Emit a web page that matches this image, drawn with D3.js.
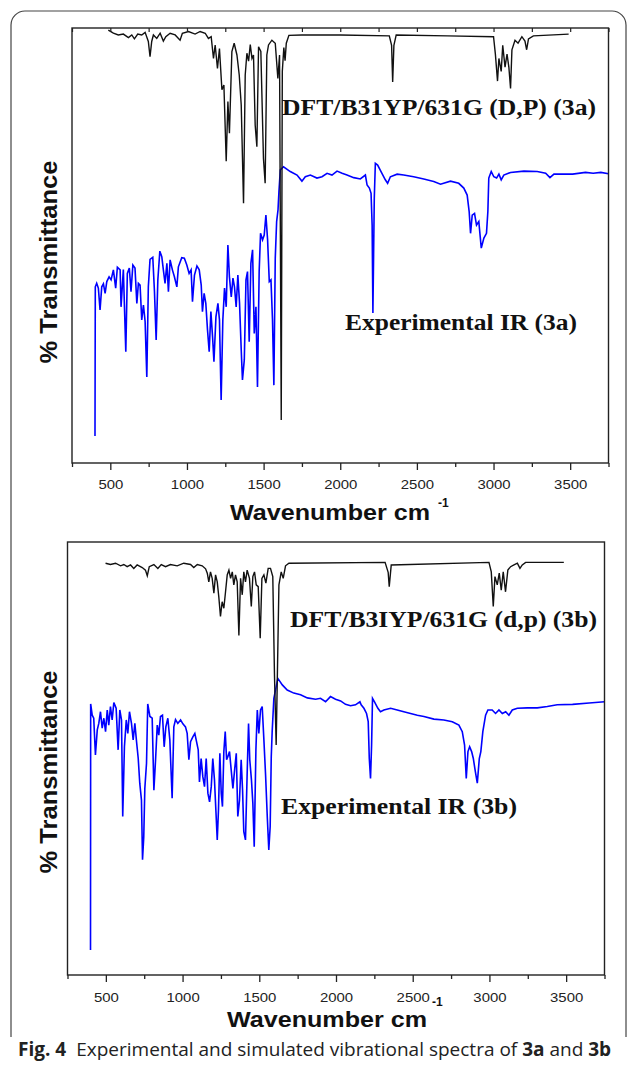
<!DOCTYPE html>
<html>
<head>
<meta charset="utf-8">
<script src="https://cdn.jsdelivr.net/npm/d3@7"></script>
<style>
body { margin: 0; background: #fff; }
svg { display: block; }
</style>
</head>
<body>
<div id="fig"></div>
<script>
// wavenumber axis ticks
var majorTicks = [500, 1000, 1500, 2000, 2500, 3000, 3500];
var minorTicks = [250, 750, 1250, 1750, 2250, 2750, 3250, 3750];

// [wavenumber, relative transmittance]
var dft3a = [[487,99.5],[520,98.8],[552,98.4],[585,98.6],[618,97.8],[640,98.4],[657,97.5],[679,98.6],[705,98.4],[727,99],[748,96.9],[759,93.4],[770,96.9],[781,98.4],[803,97.6],[825,98.8],[846,97],[862,98],[890,98.8],[923,98.4],[955,97.2],[970,98.8],[1010,99.2],[1053,98.6],[1086,99.2],[1119,98.8],[1140,97.6],[1158,98],[1173,93],[1184,96.1],[1199,90.7],[1212,95.3],[1228,85.8],[1241,86.9],[1256,69.4],[1267,83.1],[1277,75.8],[1293,94.6],[1308,96.5],[1326,93.8],[1341,89.2],[1354,82.3],[1369,59.7],[1380,89.2],[1391,94.2],[1402,92.4],[1413,96.2],[1424,93],[1434,93.8],[1445,77.7],[1456,72.7],[1467,95.7],[1482,94.6],[1499,70],[1510,64.3],[1521,93.8],[1532,96.1],[1554,97.2],[1576,96.5],[1593,88.4],[1604,93.8],[1615,9.9],[1622,90],[1632,95.5],[1640,92.5],[1648,96.5],[1665,98.3],[1750,98.4],[2000,98.4],[2320,98.2],[2335,96],[2342,87.6],[2350,96],[2365,98.4],[2700,98.2],[3000,98],[3012,94],[3026,87.8],[3035,93],[3050,90],[3060,96],[3075,91],[3088,94],[3100,91],[3111,86.1],[3120,95],[3140,97.2],[3160,96.5],[3185,98],[3205,97],[3216,95],[3228,97.5],[3260,98.2],[3490,98.6]];

var exp3a = [[400,6.2],[402,40.5],[411,41.3],[422,40.2],[433,35.2],[444,40.5],[455,41.2],[466,39],[477,41.7],[492,42.8],[505,42.1],[520,44.4],[535,40.2],[546,45],[564,44.4],[570,35.9],[585,44.5],[601,25.6],[611,43.6],[624,44.8],[635,39.4],[647,45.5],[661,44.8],[673,36.7],[683,41.3],[694,40.9],[705,32.9],[716,36.3],[727,32.5],[738,19.8],[748,40.5],[759,46.8],[777,47.3],[788,39.4],[799,28.3],[810,42.1],[823,48.7],[836,47.4],[846,44.4],[857,41.3],[869,45.9],[879,39.4],[890,46.7],[905,44.4],[918,42.8],[934,40.5],[944,45.1],[966,47.2],[983,47.1],[999,45.5],[1014,43.6],[1027,44.4],[1036,37.1],[1049,43.2],[1065,45.3],[1080,44.4],[1093,40.9],[1101,34.8],[1112,39],[1123,36.7],[1134,30.6],[1145,25.6],[1156,34.8],[1167,29],[1176,23.3],[1189,33.6],[1202,36.7],[1212,32.9],[1223,14.5],[1234,32.9],[1245,40.2],[1256,35.9],[1267,50.1],[1277,42.8],[1289,38.2],[1300,42.5],[1310,40.5],[1321,35.9],[1332,43.2],[1343,36.7],[1354,26],[1362,19.1],[1374,23.7],[1385,42.1],[1395,44],[1406,27.9],[1417,45.9],[1428,49],[1439,29.8],[1450,35.9],[1460,17.5],[1471,44],[1480,52.8],[1493,51.3],[1504,52.4],[1515,57],[1526,51.3],[1537,41.7],[1548,42.1],[1558,32.9],[1567,17.9],[1576,47.1],[1585,55.5],[1594,58.2],[1600,62.4],[1609,67.4],[1630,68.1],[1674,67],[1718,66.2],[1750,64.8],[1772,65.8],[1805,66.2],[1848,65.5],[1881,65.8],[1914,66.6],[1946,66.2],[1979,67.1],[2012,66.6],[2044,66.2],[2088,65.6],[2131,65.3],[2164,66.2],[2175,63.9],[2190,63.2],[2201,62],[2208,54.7],[2213,34.5],[2222,60.8],[2229,68.9],[2244,68.5],[2266,67],[2294,65.1],[2309,64.3],[2327,65.8],[2371,66.4],[2414,66.2],[2479,65.8],[2545,65.3],[2610,64.7],[2654,64.1],[2719,64.8],[2773,64.3],[2806,63.2],[2828,61.6],[2841,57.8],[2850,52.8],[2861,57],[2876,57.4],[2889,54.7],[2904,55.5],[2920,49.4],[2937,51.7],[2954,52.8],[2963,57.8],[2969,65.5],[2985,67],[3002,65.8],[3020,65.5],[3035,66.4],[3050,65.1],[3067,66.2],[3111,66.8],[3198,67.1],[3285,67],[3340,66.6],[3368,65.6],[3394,66.4],[3516,66.4],[3600,66.8],[3650,66.6],[3700,66.8],[3750,66.5]];

var dft3b = [[498,95.1],[530,94.8],[563,95.1],[596,94.5],[617,94.8],[639,94.3],[661,94.7],[682,93.9],[704,94.7],[737,94.1],[758,93.5],[770,92.2],[783,94.3],[813,94.8],[839,93.9],[861,94.8],[889,94.3],[921,94.8],[965,94.5],[1008,95.1],[1052,94.8],[1073,94.1],[1096,94.8],[1128,94.5],[1150,93.8],[1161,92.8],[1171,90.8],[1182,93.1],[1193,91.6],[1204,88.2],[1215,92.4],[1226,90.8],[1236,87.4],[1247,82.8],[1258,86.2],[1269,84.7],[1280,88.5],[1291,92.4],[1302,93.5],[1313,91.6],[1324,93.1],[1334,90.1],[1345,92.4],[1356,90.8],[1367,78.4],[1378,91.6],[1389,87.8],[1399,93.1],[1410,90.8],[1421,93.5],[1436,91.6],[1448,85.1],[1458,92],[1469,93.1],[1480,90.1],[1493,89.7],[1506,77.8],[1517,91.6],[1530,92.4],[1543,90.5],[1558,93.9],[1573,93.9],[1588,92],[1599,69.3],[1610,53.1],[1628,90.1],[1643,93.1],[1656,91.6],[1671,94.5],[1693,95.1],[2320,95.3],[2340,93],[2347,89.7],[2360,94.7],[2997,95.3],[3012,93.1],[3025,85.1],[3036,92],[3051,90.1],[3064,92.8],[3077,88.9],[3090,93.1],[3105,88.5],[3120,93.5],[3138,94.3],[3160,94.7],[3182,95.1],[3199,93.9],[3214,94.7],[3236,95.3],[3485,95.3]];

var exp3b = [[400,5.8],[401,62.6],[411,60],[421,59.3],[432,50.8],[444,56.6],[454,58.1],[465,60.8],[476,57],[487,59.3],[498,56.2],[509,61.2],[519,57.7],[530,62],[541,58.9],[552,62.9],[567,61.6],[580,52],[591,61.2],[602,58.9],[610,36.6],[621,52.7],[633,58.9],[643,55.8],[654,60.8],[667,58.1],[678,54.3],[689,58.1],[700,53.9],[711,50],[721,44.3],[732,40.4],[739,26.6],[747,31.9],[754,43.1],[765,48.9],[773,62.6],[787,59.7],[802,59.3],[813,42.7],[824,49.7],[835,57.7],[845,55.4],[856,59.7],[869,60],[880,52.7],[891,57.3],[904,59.3],[917,54.3],[932,40.8],[943,57.3],[954,59],[969,58.1],[987,58.9],[1002,58],[1019,57.3],[1030,55.8],[1041,49.7],[1052,53.9],[1067,55],[1080,55.8],[1091,53.9],[1102,52],[1110,44.6],[1121,50],[1132,45.8],[1143,43.5],[1154,50],[1165,42],[1176,40],[1187,43.5],[1197,50],[1208,45],[1217,38.1],[1226,31.2],[1234,38.1],[1243,51.2],[1252,42],[1260,38.9],[1269,51.6],[1278,56.2],[1287,49.7],[1295,50.4],[1306,51.6],[1317,47.3],[1328,43.1],[1339,47.3],[1350,51.2],[1360,36.6],[1371,40.4],[1382,49.7],[1391,42.7],[1399,33.1],[1410,31.2],[1421,46.6],[1430,58.1],[1438,49.7],[1449,45],[1458,39.7],[1467,29.6],[1478,52],[1487,61.2],[1497,55.8],[1508,61.2],[1519,62],[1530,54.3],[1541,46.2],[1552,36.6],[1562,28.9],[1571,34.3],[1578,50.4],[1584,56.2],[1595,63.9],[1621,68.5],[1650,67],[1682,65.8],[1725,65.1],[1769,64.7],[1813,64],[1867,63.7],[1899,63.9],[1932,63.1],[1964,64.3],[1997,63.7],[2030,63.3],[2062,62.5],[2095,62.2],[2127,62.4],[2156,63.1],[2164,62.4],[2182,61.6],[2199,60.4],[2210,58.5],[2217,50],[2225,45.4],[2232,53.1],[2238,63.9],[2251,63.1],[2273,61.6],[2290,60.8],[2312,61.2],[2356,61.6],[2399,61.2],[2442,60.8],[2486,60.4],[2530,60],[2573,59.7],[2638,59.1],[2703,58.9],[2758,58.5],[2801,57.7],[2823,56.2],[2838,53.1],[2849,45.4],[2860,51.6],[2871,52.7],[2884,51.6],[2895,50],[2908,47],[2921,44.3],[2934,50],[2944,51.6],[2957,56.2],[2975,60],[2990,61.2],[3018,61.2],[3040,60.4],[3062,61.2],[3084,60.4],[3106,60.8],[3127,60],[3149,61.2],[3182,61.6],[3247,61.7],[3312,61.7],[3377,62],[3442,62.4],[3542,62.5],[3650,62.8],[3750,63.1]];

var width = 629, height = 1066;

var svg = d3.select("#fig")
    .append("svg")
    .attr("width", width)
    .attr("height", height);

svg.append("rect")
    .attr("width", width)
    .attr("height", height)
    .attr("fill", "#fff");

// rounded frame around the figure
svg.append("path")
    .attr("d", "M11,1037 V25 A14,14 0 0 1 25,11 H612 A14,14 0 0 1 626,25 V1037")
    .attr("fill", "none")
    .attr("stroke", "#444")
    .attr("stroke-width", 1.2);

var panels = [
    {
        left: 72, right: 608.5, top: 28, bottom: 463,
        dft: dft3a, exp: exp3a, topTicks: true,
        dftLabel: "DFT/B31YP/631G (D,P) (3a)", dftPos: [282, 115, 314],
        expLabel: "Experimental IR (3a)", expPos: [345, 330, 232],
        tickBase: 488.5, titleBase: 520, titleX: 230, supPos: [438, 507],
        yLabelY: 262
    },
    {
        left: 67.5, right: 604.5, top: 542, bottom: 975,
        dft: dft3b, exp: exp3b, topTicks: false,
        dftLabel: "DFT/B3IYP/631G (d,p) (3b)", dftPos: [290, 627, 307],
        expLabel: "Experimental IR (3b)", expPos: [281, 814, 236],
        tickBase: 1002, titleBase: 1027, titleX: 227, supPos: [432, 1006],
        yLabelY: 772
    }
];

panels.forEach(function (p) {
    var x = d3.scaleLinear().domain([250, 3750]).range([p.left, p.right]);
    var y = d3.scaleLinear().domain([0, 100]).range([p.bottom, p.top]);

    var line = d3.line()
        .x(function (d) { return x(d[0]); })
        .y(function (d) { return y(d[1]); });

    var g = svg.append("g");

    g.append("path")
        .datum(p.exp)
        .attr("d", line)
        .attr("fill", "none")
        .attr("stroke", "#0000ff")
        .attr("stroke-width", 1.6);

    g.append("path")
        .datum(p.dft)
        .attr("d", line)
        .attr("fill", "none")
        .attr("stroke", "#111")
        .attr("stroke-width", 1.4);

    // bottom axis, major + minor ticks
    var ax = g.append("g")
        .attr("transform", "translate(0," + p.bottom + ")")
        .call(d3.axisBottom(x).tickValues(majorTicks).tickSize(7).tickPadding(6).tickFormat(d3.format("d")));
    ax.select(".domain").remove();
    ax.selectAll("line").attr("stroke", "#222").attr("stroke-width", 1.3);
    ax.selectAll("text")
        .attr("y", null).attr("dy", null)
        .attr("transform", "translate(0," + (p.tickBase - p.bottom) + ")")
        .attr("font-family", "Liberation Sans, Arial, sans-serif")
        .attr("font-size", 13)
        .attr("fill", "#222")
        .attr("textLength", function (d) { return String(d).length * 8.3; })
        .attr("lengthAdjust", "spacingAndGlyphs");

    var mx = g.append("g")
        .attr("transform", "translate(0," + p.bottom + ")")
        .call(d3.axisBottom(x).tickValues(minorTicks).tickSize(4).tickFormat(""));
    mx.select(".domain").remove();
    mx.selectAll("line").attr("stroke", "#222").attr("stroke-width", 1.3);

    if (p.topTicks) {
        var tx = g.append("g")
            .attr("transform", "translate(0," + p.top + ")")
            .call(d3.axisTop(x).tickValues(majorTicks.concat(minorTicks)).tickSize(-4).tickFormat(""));
        tx.select(".domain").remove();
        tx.selectAll("line").attr("stroke", "#222").attr("stroke-width", 1.2);
    }

    g.append("rect")
        .attr("x", p.left).attr("y", p.top)
        .attr("width", p.right - p.left)
        .attr("height", p.bottom - p.top)
        .attr("fill", "none")
        .attr("stroke", "#222")
        .attr("stroke-width", 1.4);

    // spectrum labels
    g.append("text")
        .attr("x", p.dftPos[0]).attr("y", p.dftPos[1])
        .attr("textLength", p.dftPos[2]).attr("lengthAdjust", "spacingAndGlyphs")
        .attr("font-family", "Liberation Serif, Times New Roman, serif")
        .attr("font-weight", "bold").attr("font-size", 23)
        .attr("fill", "#111")
        .text(p.dftLabel);

    g.append("text")
        .attr("x", p.expPos[0]).attr("y", p.expPos[1])
        .attr("textLength", p.expPos[2]).attr("lengthAdjust", "spacingAndGlyphs")
        .attr("font-family", "Liberation Serif, Times New Roman, serif")
        .attr("font-weight", "bold").attr("font-size", 23)
        .attr("fill", "#111")
        .text(p.expLabel);

    // axis titles
    g.append("text")
        .attr("x", p.titleX).attr("y", p.titleBase)
        .attr("textLength", 200).attr("lengthAdjust", "spacingAndGlyphs")
        .attr("font-family", "Liberation Sans, Arial, sans-serif")
        .attr("font-weight", "bold").attr("font-size", 22)
        .attr("fill", "#111")
        .text("Wavenumber cm");

    g.append("text")
        .attr("x", p.supPos[0]).attr("y", p.supPos[1])
        .attr("font-family", "Liberation Sans, Arial, sans-serif")
        .attr("font-weight", "bold").attr("font-size", 12)
        .attr("fill", "#111")
        .text("-1");

    g.append("text")
        .attr("transform", "translate(57," + p.yLabelY + ") rotate(-90)")
        .attr("text-anchor", "middle")
        .attr("textLength", 203).attr("lengthAdjust", "spacingAndGlyphs")
        .attr("font-family", "Liberation Sans, Arial, sans-serif")
        .attr("font-weight", "bold").attr("font-size", 24)
        .attr("fill", "#111")
        .text("% Transmittance");
});

// caption
var cap = svg.append("text")
    .attr("x", 18).attr("y", 1056)
    .attr("font-family", "Open Sans, Noto Sans, sans-serif")
    .attr("font-size", 19)
    .attr("fill", "#222");
cap.append("tspan").attr("font-weight", "bold").text("Fig. 4");
cap.append("tspan").attr("dx", 10).text("Experimental and simulated vibrational spectra of ");
cap.append("tspan").attr("font-weight", "bold").text("3a");
cap.append("tspan").text(" and ");
cap.append("tspan").attr("font-weight", "bold").text("3b");
</script>
</body>
</html>
